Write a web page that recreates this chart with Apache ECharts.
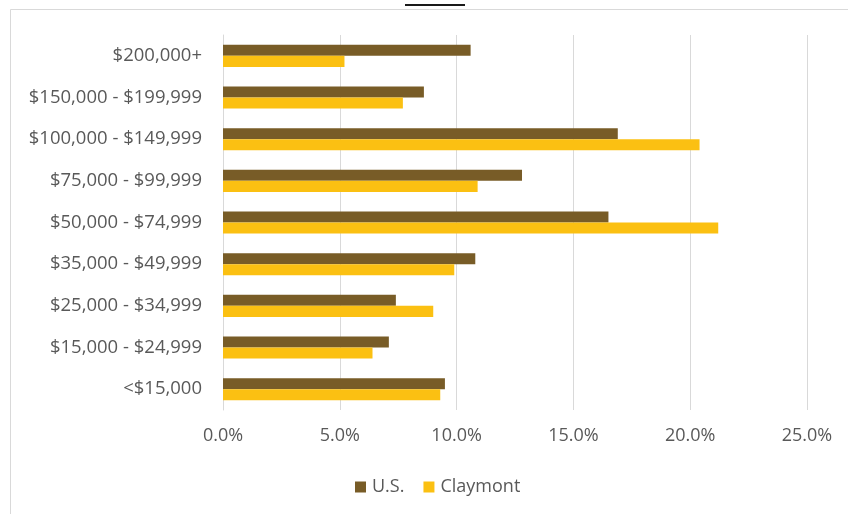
<!DOCTYPE html>
<html>
<head>
<meta charset="utf-8">
<script src="https://cdn.jsdelivr.net/npm/echarts@6/dist/echarts.min.js"></script>
<style>
html,body{margin:0;padding:0;background:#fff;}
#chart{width:848px;height:514px;}
</style>
</head>
<body>
<div id="chart"></div>
<script>
const categories = ['<$15,000', '$15,000 - $24,999', '$25,000 - $34,999', '$35,000 - $49,999', '$50,000 - $74,999', '$75,000 - $99,999', '$100,000 - $149,999', '$150,000 - $199,999', '$200,000+'];
const usValues = [9.5, 7.1, 7.4, 10.8, 16.5, 12.8, 16.9, 8.6, 10.6];
const claymontValues = [9.3, 6.4, 9.0, 9.9, 21.2, 10.9, 20.4, 7.7, 5.2];
const seriesNames = ['U.S.', 'Claymont'];
const xTicks = { min: 0, max: 25, interval: 5 };

const chart = echarts.init(document.getElementById('chart'), null, { renderer: 'canvas' });
const font = '"Open Sans", "Liberation Sans", sans-serif';
chart.setOption({
  animation: false,
  backgroundColor: '#fff',
  graphic: [
    { type: 'rect', shape: { x: 10.5, y: 9.5, width: 850, height: 520 }, style: { fill: 'none', stroke: '#D9D9D9', lineWidth: 1 }, silent: true },
    { type: 'rect', shape: { x: 405, y: 4, width: 60, height: 2 }, style: { fill: '#1a1a1a' }, silent: true }
  ],
  grid: { left: 223, right: 41, top: 35, height: 375, containLabel: false },
  legend: {
    data: seriesNames,
    top: 473,
    left: 350,
    itemWidth: 11,
    itemHeight: 11,
    itemGap: 19,
    icon: 'rect',
    textStyle: { fontFamily: font, fontSize: 18, color: '#595959', padding: [0, 0, 0, 1] }
  },
  xAxis: {
    type: 'value',
    min: xTicks.min,
    max: xTicks.max,
    interval: xTicks.interval,
    axisLine: { show: false },
    axisTick: { show: false },
    splitLine: { lineStyle: { color: '#D9D9D9', width: 1 } },
    axisLabel: { formatter: v => v.toFixed(1) + '%', fontFamily: font, fontSize: 18, color: '#595959', margin: 17 }
  },
  yAxis: {
    type: 'category',
    data: categories,
    axisLine: { show: true, lineStyle: { color: '#D9D9D9' } },
    axisTick: { show: false },
    axisLabel: { fontFamily: font, fontSize: 18.5, color: '#595959', margin: 21 }
  },
  series: [
    {
      name: seriesNames[0], type: 'bar', data: usValues,
      itemStyle: { color: '#785C27' },
      barGap: '0%', barCategoryGap: '47%'
    },
    {
      name: seriesNames[1], type: 'bar', data: claymontValues,
      itemStyle: { color: '#FBC012' },
      barGap: '0%', barCategoryGap: '47%'
    }
  ]
});
</script>
</body>
</html>
